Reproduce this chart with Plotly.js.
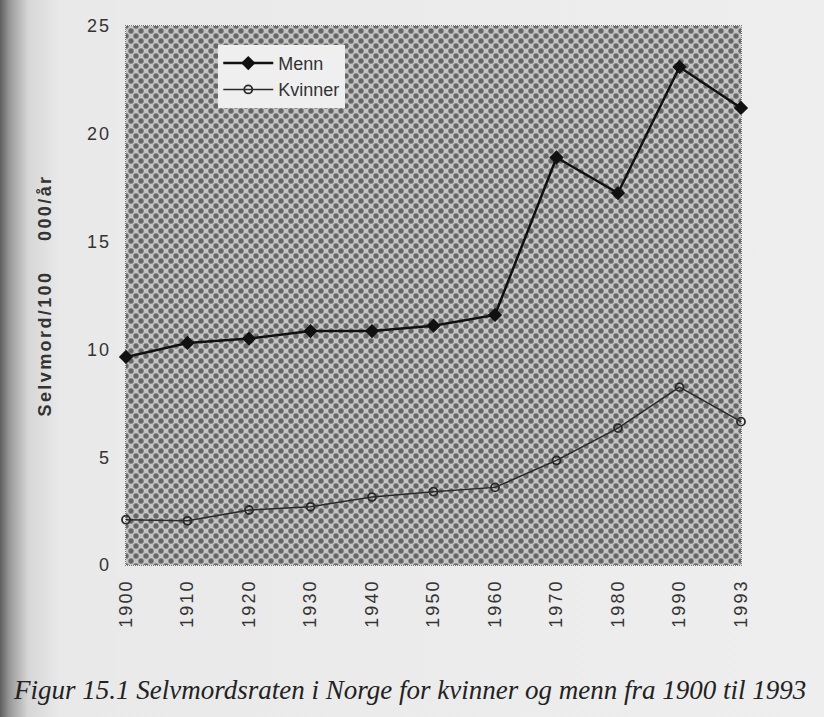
<!DOCTYPE html>
<html>
<head>
<meta charset="utf-8">
<script src="https://cdn.plot.ly/plotly-3.0.1.min.js"></script>
<style>
  html, body { margin: 0; padding: 0; }
  body {
    width: 824px; height: 717px; overflow: hidden;
    background: linear-gradient(to right, #5e5e5e 0px, #9a9a9a 10px, #d6d6d6 28px, #e9e9e9 60px, #eeeeee 100%);
  }
  #wrap { position: relative; width: 824px; height: 717px; }
  #dots {
    position: absolute; left: 126px; top: 26px; width: 615px; height: 539px;
    background-color: #c4c4c4;
    background-image:
      radial-gradient(circle, #666666 2.0px, rgba(102,102,102,0) 3.4px),
      radial-gradient(circle, #666666 2.0px, rgba(102,102,102,0) 3.4px);
    background-size: 10px 10px;
    background-position: 0 0, 5px 5px;
    outline: 1px dotted #777;
  }
  #chart { position: absolute; left: 0; top: 0; width: 824px; height: 717px; }
  #chart .xtick text, #chart .ytick text { letter-spacing: 2px; }
  #chart .g-ytitle text { letter-spacing: 2.4px; }
</style>
</head>
<body>
<div id="wrap">
  <div id="dots"></div>
  <div id="chart"></div>
</div>
<script>
const years = ['1900','1910','1920','1930','1940','1950','1960','1970','1980','1990','1993'];
const menn = [9.65, 10.3, 10.5, 10.85, 10.85, 11.1, 11.6, 18.9, 17.25, 23.1, 21.2];
const kvinner = [2.1, 2.05, 2.55, 2.7, 3.15, 3.4, 3.6, 4.85, 6.35, 8.25, 6.65];
const yTicks = [0, 5, 10, 15, 20, 25];

const traces = [
  {
    x: years, y: menn, name: 'Menn', type: 'scatter', mode: 'lines+markers',
    line: {color: '#111111', width: 2.5},
    marker: {symbol: 'diamond', size: 11, color: '#111111'},
    cliponaxis: false
  },
  {
    x: years, y: kvinner, name: 'Kvinner', type: 'scatter', mode: 'lines+markers',
    line: {color: '#2a2a2a', width: 1.5},
    marker: {symbol: 'circle-open', size: 8, color: '#2a2a2a', line: {width: 1.8}},
    cliponaxis: false
  }
];

const layout = {
  width: 824, height: 717,
  margin: {l: 126, r: 83, t: 26, b: 152},
  paper_bgcolor: 'rgba(0,0,0,0)',
  plot_bgcolor: 'rgba(0,0,0,0)',
  font: {family: 'Liberation Sans, Arial, sans-serif', color: '#333333'},
  xaxis: {
    type: 'category', range: [0, 10],
    showgrid: false, zeroline: false, showline: false,
    ticks: '', tickangle: -90,
    tickfont: {size: 18, color: '#333333'},
    ticklabelstandoff: 10
  },
  yaxis: {
    range: [0, 25], tickvals: yTicks, ticktext: yTicks.map(String),
    showgrid: false, zeroline: false, showline: false,
    ticks: '', tickfont: {size: 18, color: '#333333'},
    ticklabelstandoff: 14,
    title: {
      text: 'Selvmord/100\u00a0\u00a0\u00a0\u00a0000/år',
      font: {size: 18, color: '#333333', weight: 'bold'},
      standoff: 34
    }
  },
  legend: {
    x: 0.150, y: 0.965, xanchor: 'left', yanchor: 'top',
    bgcolor: '#efefef', borderwidth: 0,
    font: {size: 18, color: '#333333'},
    itemwidth: 50,
    tracegroupgap: 0
  },
  annotations: [{
    xref: 'paper', yref: 'paper', x: -0.187, y: -0.232,
    xanchor: 'left', yanchor: 'middle', showarrow: false,
    text: 'Figur 15.1 Selvmordsraten i Norge for kvinner og menn fra 1900 til 1993',
    font: {family: 'Liberation Serif, Times New Roman, serif', size: 27, color: '#222222', style: 'italic'}
  }]
};

Plotly.newPlot('chart', traces, layout, {displayModeBar: false, staticPlot: true});
</script>
</body>
</html>
